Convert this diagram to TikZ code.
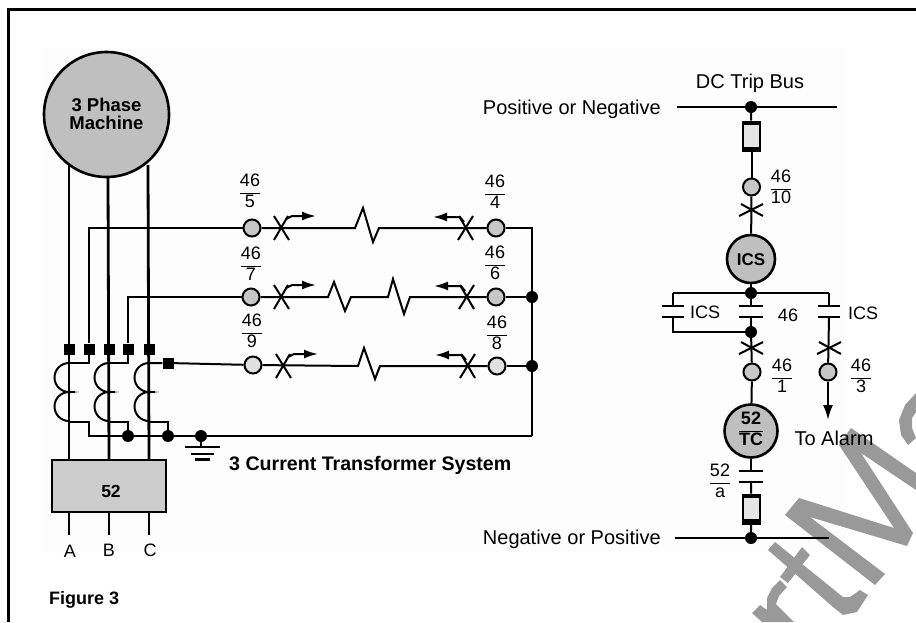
\documentclass[tikz,border=0pt]{standalone}
\usepackage{fontspec}
\setmainfont{Liberation Sans}
\usetikzlibrary{arrows.meta, positioning, calc}

\definecolor{stamp}{gray}{0.6}
\newcommand{\relfrac}[2]{\begin{tabular}{@{}c@{}}#1\\\hline #2\end{tabular}}
% cross with flag, arrow to the right / left
\newcommand{\flagR}[2]{
    \draw[wire] (#1-7,#2+12) -- (#1+7,#2-12);
    \draw[wire] (#1-7,#2-12) -- (#1+8,#2+12);
    \draw[wire,-{Latex[length=14pt,width=9pt]}] (#1+5,#2-9) -- (#1+11,#2-12) -- (#1+35,#2-12);
}
\newcommand{\flagL}[2]{
    \draw[wire] (#1+7,#2+12) -- (#1-7,#2-12);
    \draw[wire] (#1+7,#2-12) -- (#1-8,#2+12);
    \draw[wire,-{Latex[length=14pt,width=9pt]}] (#1-2,#2-6) -- (#1-6,#2-11) -- (#1-33,#2-11);
}
\newcommand{\flagV}[2]{
    \draw[wire] (#1-12,#2+6) -- (#1+12,#2-6);
    \draw[wire] (#1-10,#2-6) -- (#1+12,#2+6);
}
\newcommand{\contact}[3]{
    \draw[bar] (#1-#3,#2) -- (#1+#3,#2);
    \draw[bar] (#1-#3,#2+11) -- (#1+#3,#2+11);
}

\tikzset{
    wire/.style={line width=2pt},
    heavy/.style={line width=2.8pt},
    bar/.style={line width=2.2pt},
    txt/.style={inner sep=0pt, font=\fontsize{20}{23}\selectfont},
    tag/.style={inner sep=0pt, font=\fontsize{18}{20}\selectfont},
    bold/.style={inner sep=0pt, font=\fontsize{17.5}{20}\selectfont\bfseries},
    fr/.style={inner sep=0pt, font=\fontsize{18}{20.5}\selectfont},
    relay/.style={circle, draw, line width=2pt, fill=black!22, minimum size=17pt, inner sep=0pt},
    relayl/.style={relay, fill=black!12},
    coil/.style={circle, draw, line width=2.6pt, fill=black!25, inner sep=0pt},
    dot/.style={circle, fill=black, minimum size=12pt, inner sep=0pt},
    term/.style={rectangle, fill=black, minimum size=11pt, inner sep=0pt},
    fuse/.style={rectangle, draw, line width=2pt, fill=black!10, minimum width=17pt, minimum height=29pt, inner sep=0pt},
}

\begin{document}
\begin{tikzpicture}[x=1pt,y=-1pt]
\useasboundingbox (0,0) rectangle (916,622);

% paper tint and frame
\fill[black!0.8] (42,48) rectangle (846,552);
\draw[line width=3pt] (8.5,622) -- (8.5,9) -- (916,9);

% stamp across the corner
\fill[stamp] (785,515) -- (799,498) -- (894,528) -- (839,445) -- (851,428) -- (916,473) -- (916,490) -- (861,453) -- (913,533) -- (907,546) -- (810,517) -- (885,574) -- (875,585) -- cycle;
\fill[stamp] (916,393) -- (905,405) -- (899,420) -- (901,435) -- (908,445) -- (916,438) -- (912,428) -- (912,418) -- (916,412) -- cycle;
\fill[stamp] (768,550) -- (775,542) -- (843,597) -- (850,597) -- (860,590) -- (868,595) -- (857,612) -- (843,615) -- (833,607) -- cycle;
\fill[stamp] (802,547) -- (810,555) -- (788,583) -- (780,577) -- cycle;
\fill[stamp] (752,613) -- (760,605) -- (767,610) -- (767,598) -- (772,588) -- (780,580) -- (787,587) -- (779,596) -- (776,604) -- (794,622) -- (762,622) -- cycle;

% phases
\foreach \p/\xa/\xb/\ya in {a/69/69/165, b/108/109/177, c/148/149/165} {
    \coordinate (top\p) at (\xa,\ya);
    \coordinate (low\p) at (\xb,460);
    \coordinate (end\p) at (\xb,535);
    \draw[heavy] (top\p) -- (low\p);
    \draw[heavy] (\xb,512) -- (end\p);
    \draw[line width=2pt] (\xb,363) arc[start angle=-90, end angle=-270, radius=14.5]
        arc[start angle=-90, end angle=-270, radius=14.5];
    \draw[wire] (\xb,392) -- ++(6,0);
}

% machine and breaker
\node[coil, minimum size=125pt] (mach) at (106.5,114.5) {};
\node[bold, align=center, font=\fontsize{18.5}{18}\selectfont\bfseries] (machtxt) at (106.5,114) {3 Phase\\Machine};
\node[rectangle, draw, line width=2.4pt, fill=black!20, minimum width=114pt, minimum height=52pt, inner sep=0pt] (brk) at (109,486) {};
\node[bold] (brktxt) at (111,491) {52};

% terminals of the current transformers
\node[term] (ta1) at (69,349) {};
\node[term] (ta2) at (89,349) {};
\node[term] (tb1) at (109,349) {};
\node[term] (tb2) at (128,349) {};
\node[term] (tc1) at (149,349) {};
\node[term] (tc2) at (168,363) {};

\node[tag] (lA) at (70,551) {A};
\node[tag] (lB) at (109,550) {B};
\node[tag] (lC) at (150,550) {C};

% relay test points, left and right
\node[relay] (r5) at (252,228) {};
\node[relay] (r7) at (251,297) {};
\node[relayl] (r9) at (253,365) {};
\node[relay] (r4) at (496,228) {};
\node[relay] (r6) at (496,297) {};
\node[relayl] (r8) at (497,366) {};
\node[dot] (j6) at (532,297) {};
\node[dot] (j8) at (532,366) {};
\coordinate (c4) at (532,228);
\coordinate (c0) at (532,436);

% leads to the relay
\draw[wire] (r5) -- (89,228) -- (ta2);
\draw[wire] (ta2) -- (89,363) -- (69,363);
\draw[wire] (r7) -- (128,297) -- (tb2);
\draw[wire] (tb2) -- (128,363) -- (109,363);
\draw[wire] (r9) -- (tc2) -- (149,363);

% coil strings
\draw[wire] (r5) -- (355,228) -- (363,208) -- (373,242) -- (379,228) -- (r4);
\draw[wire] (r7) -- (328,297) -- (334,282) -- (345,311) -- (351,297) -- (388,297) -- (393,279) -- (404,314) -- (410,297) -- (r6);
\draw[wire] (r9) -- (358,366) -- (364,348) -- (375,379) -- (380,366) -- (r8);
\draw[wire] (r4) -- (c4) -- (j6) -- (j8) -- (c0);
\draw[wire] (r6) -- (j6);
\draw[wire] (r8) -- (j8);

\flagR{281}{228}
\flagR{281}{297}
\flagR{283}{366}
\flagL{466}{228}
\flagL{467}{297}
\flagL{468}{366}

% neutral
\node[dot] (nb) at (128,436) {};
\node[dot] (nc) at (168,436) {};
\node[dot] (gnd) at (201,436) {};
\coordinate (na) at (89,436);
\draw[wire] (69,422) -- (89,422) -- (na) -- (nb) -- (nc) -- (gnd) -- (c0);
\draw[wire] (109,422) -- (128,422) -- (nb);
\draw[wire] (149,422) -- (168,422) -- (nc);
\draw[wire] (gnd) -- (201,447);
\draw[bar] (185,447) -- (220,447);
\draw[bar] (191,454) -- (214,454);
\draw[bar] (195,459.5) -- (210,459.5);
\node[bold, anchor=west, font=\fontsize{19.6}{22}\selectfont\bfseries] (sys) at (229,465) {3 Current Transformer System};
\node[bold, anchor=west, font=\fontsize{18}{20}\selectfont\bfseries] (fig) at (49,600) {Figure 3};

% labels of the test points
\node[fr] (f5) at (250,193) {\relfrac{46}{5}};
\node[fr] (f7) at (251,266) {\relfrac{46}{7}};
\node[fr] (f9) at (252,333) {\relfrac{46}{9}};
\node[fr] (f4) at (495,194) {\relfrac{46}{4}};
\node[fr] (f6) at (495,265) {\relfrac{46}{6}};
\node[fr] (f8) at (497,335) {\relfrac{46}{8}};

% trip circuit
\node[dot] (jt) at (751,107) {};
\coordinate (bl) at (677,107);
\coordinate (br) at (837,107);
\node[fuse] (fu1) at (751.5,136) {};
\node[relay] (r10) at (751.5,187) {};
\node[coil, minimum size=48pt] (ics) at (751,259) {};
\node[bold, font=\fontsize{17}{20}\selectfont\bfseries] (icstxt) at (751,260) {ICS};
\node[dot] (js) at (751,293) {};
\node[dot] (jm) at (751,332) {};
\coordinate (sl) at (673,293);
\coordinate (ml) at (673,332);
\coordinate (sr) at (829,293);
\node[relay] (r1) at (752,372) {};
\node[relay] (r3) at (828,372) {};
\coordinate (tip) at (828,420);
\node[coil, minimum size=53pt] (tc) at (751,431) {};
\node[bold, font=\fontsize{18}{20.5}\selectfont\bfseries] (tctxt) at (751,431) {\relfrac{52}{TC}};
\node[fuse] (fu2) at (751.5,509) {};
\node[dot] (jb) at (751,538) {};
\coordinate (dl) at (675,538);
\coordinate (dr) at (829,538);

\draw[line width=2pt] (bl) -- (br);
\draw[line width=2pt] (dl) -- (dr);
\draw[wire] (jt) -- (fu1);
\draw[wire] (fu1) -- (r10);
\draw[wire] (r10) -- (ics);
\draw[wire] (ics) -- (js);
\draw[wire] (js) -- (751,306);
\draw[wire] (751,317) -- (jm);
\draw[wire] (jm) -- (r1);
\draw[wire] (r1) -- (tc);
\draw[wire] (tc) -- (751,471);
\draw[wire] (751,482) -- (fu2);
\draw[wire] (fu2) -- (jb);
\draw[wire] (sl) -- (sr);
\draw[wire] (sl) -- (673,306);
\draw[wire] (673,317) -- (ml) -- (jm);
\draw[wire] (sr) -- (829,306);
\draw[wire] (829,317) -- (r3);
\draw[wire,-{Latex[length=15pt,width=10pt]}] (r3) -- (tip);

\contact{673}{306}{11}
\contact{751}{306}{12}
\contact{829}{306}{11}
\contact{751}{471}{12}
\flagV{751}{210}
\flagV{751}{348}
\flagV{829}{348}
\fill (743,122) rectangle (760,125);
\fill (743,147) rectangle (760,150);
\fill (743,495) rectangle (760,498);
\fill (743,519) rectangle (760,523);

\node[txt] (lt) at (750,83) {DC Trip Bus};
\node[txt, anchor=east] (lp) at (661,109) {Positive or Negative};
\node[txt, anchor=east] (ln) at (661,539) {Negative or Positive};
\node[tag] (li1) at (705,312) {ICS};
\node[tag] (l46) at (788,315) {46};
\node[tag] (li2) at (863,313) {ICS};
\node[fr] (f10) at (781,189) {\relfrac{46}{10}};
\node[fr] (f1) at (782,378) {\relfrac{46}{1}};
\node[fr] (f3) at (861,378) {\relfrac{46}{3}};
\node[fr] (fa) at (720,483) {\relfrac{52}{a}};
\node[txt] (alarm) at (834,438) {To Alarm};
\end{tikzpicture}
\end{document}
